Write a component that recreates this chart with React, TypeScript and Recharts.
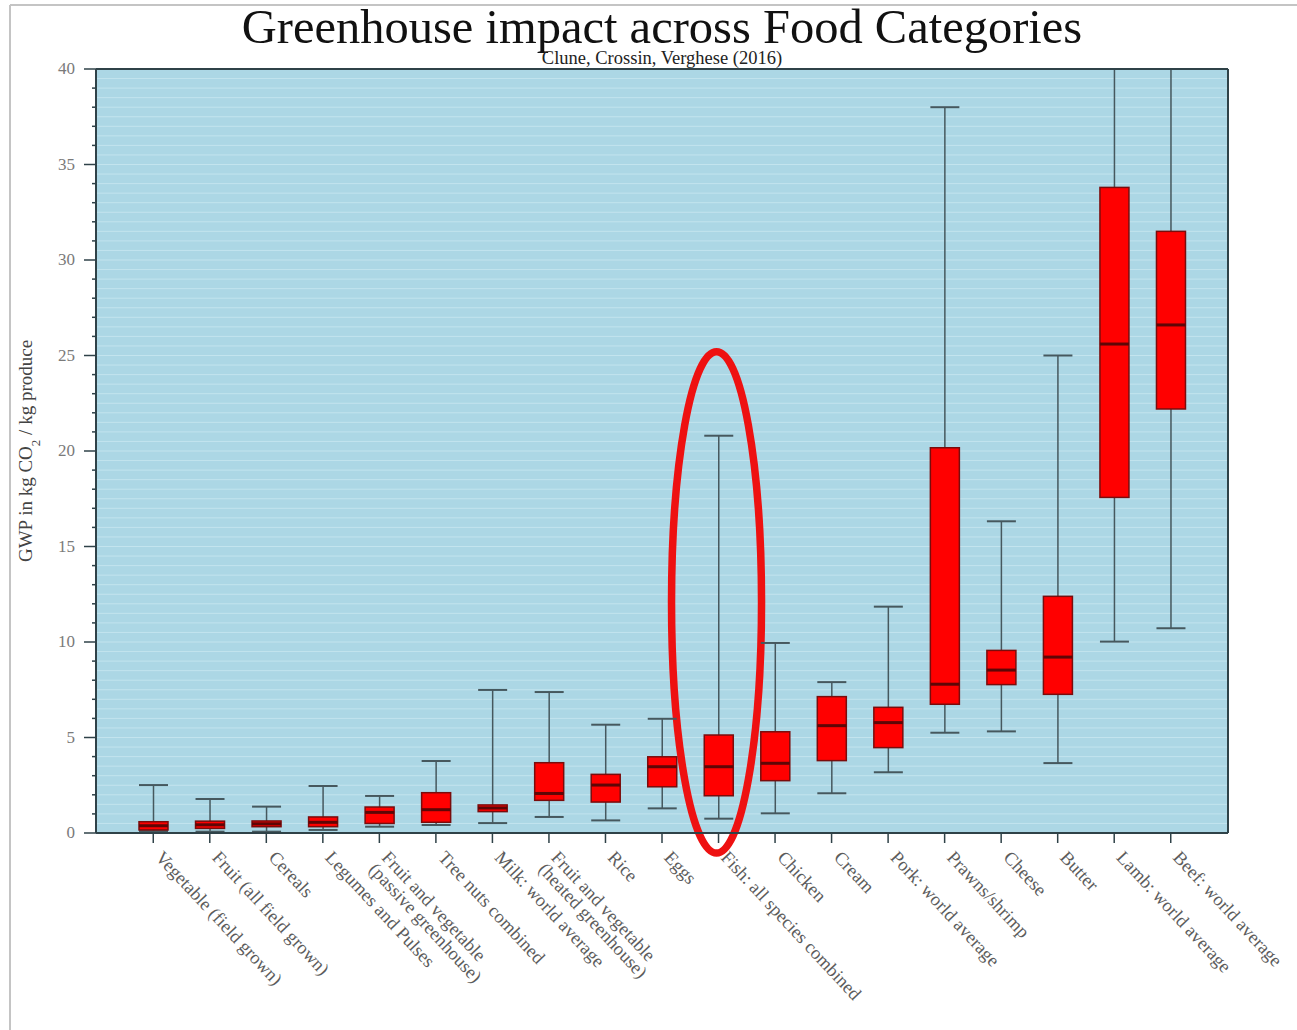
import { ComposedChart, Bar, XAxis, YAxis, CartesianGrid, ReferenceLine, ReferenceArea } from 'recharts'

const categories = [
  'Vegetable (field grown)',
  'Fruit (all field grown)',
  'Cereals',
  'Legumes and Pulses',
  'Fruit and vegetable\n(passive greenhouse)',
  'Tree nuts combined',
  'Milk: world average',
  'Fruit and vegetable\n(heated greenhouse)',
  'Rice',
  'Eggs',
  'Fish: all species combined',
  'Chicken',
  'Cream',
  'Pork: world average',
  'Prawns/shrimp',
  'Cheese',
  'Butter',
  'Lamb: world average',
  'Beef: world average',
]

// GWP in kg CO2 / kg produce
const mins = [0.1, 0.07, 0.07, 0.16, 0.33, 0.42, 0.52, 0.84, 0.66, 1.29, 0.75, 1.03, 2.08, 3.18, 5.25, 5.32, 3.66, 10.02, 10.72]
const q1s = [0.16, 0.24, 0.33, 0.33, 0.5, 0.56, 1.12, 1.71, 1.62, 2.42, 1.95, 2.74, 3.79, 4.47, 6.74, 7.77, 7.26, 17.57, 22.2]
const medians = [0.38, 0.43, 0.48, 0.56, 1.08, 1.22, 1.31, 2.07, 2.51, 3.47, 3.47, 3.65, 5.62, 5.78, 7.79, 8.53, 9.21, 25.6, 26.6]
const q3s = [0.59, 0.62, 0.63, 0.84, 1.36, 2.11, 1.47, 3.68, 3.07, 3.99, 5.13, 5.3, 7.14, 6.58, 20.17, 9.56, 12.39, 33.8, 31.5]
const maxs = [2.51, 1.78, 1.38, 2.46, 1.94, 3.77, 7.49, 7.38, 5.67, 5.98, 20.8, 9.95, 7.9, 11.85, 38.0, 16.32, 25.0, 48, 60]

const yTicks = [0, 1, 2, 3, 4, 5, 6, 7, 8, 9, 10, 11, 12, 13, 14, 15, 16, 17, 18, 19, 20, 21, 22, 23, 24, 25, 26, 27, 28, 29, 30, 31, 32, 33, 34, 35, 36, 37, 38, 39, 40]
const highlighted = 'Fish: all species combined'
const highlightRange = [-1.05, 25.2]

const data = categories.map((name, i) => ({
  name,
  min: mins[i],
  q1: q1s[i],
  median: medians[i],
  q3: q3s[i],
  max: maxs[i],
  range: [mins[i], maxs[i]],
}))

const gridValues = yTicks.flatMap((v) => (v < 40 ? [v, v + 0.5] : [v]))

const FONT = '"Liberation Serif", "DejaVu Serif", serif'
const AXIS = '#2f4248'
const WHISKER = '#46585e'

const BoxShape = (props: any) => {
  const { x, y, width, height, payload } = props
  const { min, q1, median, q3, max } = payload
  const top = Math.min(y, y + height)
  const bottom = Math.max(y, y + height)
  const py = (v: number) => bottom - ((bottom - top) * (v - min)) / (max - min)
  const cx = x + width / 2
  const half = width / 2
  return (
    <g>
      <line x1={cx} x2={cx} y1={py(max)} y2={py(min)} stroke={WHISKER} strokeWidth={1.5} />
      <line x1={cx - half} x2={cx + half} y1={py(max)} y2={py(max)} stroke={WHISKER} strokeWidth={2} />
      <line x1={cx - half} x2={cx + half} y1={py(min)} y2={py(min)} stroke={WHISKER} strokeWidth={2} />
      <rect x={cx - half} y={py(q3)} width={width} height={py(q1) - py(q3)} fill="#ff0000" stroke="#7a0c0c" strokeWidth={1.5} />
      <line x1={cx - half} x2={cx + half} y1={py(median)} y2={py(median)} stroke="#5e0606" strokeWidth={3} />
    </g>
  )
}

const LeftTick = (props: any) => {
  const { x, y, payload } = props
  const major = payload.value % 5 === 0
  return (
    <g>
      <line x1={x} x2={x - (major ? 12 : 4)} y1={y} y2={y} stroke={AXIS} strokeWidth={1.5} />
      {major && (
        <text x={x - 21} y={y} dy={5} textAnchor="end" fontFamily={FONT} fontSize={17} fill="#7a7a7a">
          {payload.value}
        </text>
      )}
    </g>
  )
}

const RightTick = (props: any) => {
  const { x, y, payload } = props
  const major = payload.value % 5 === 0
  return <line x1={x} x2={x + (major ? 12 : 5)} y1={y} y2={y} stroke={AXIS} strokeWidth={1.5} />
}

const CategoryTick = (props: any) => {
  const { x, y, payload } = props
  const lines = String(payload.value).split('\n')
  return (
    <g transform={`translate(${x},${y}) rotate(47)`}>
      <text x={12} y={-4} fontFamily={FONT} fontSize={18.5} fill="#5c5c5c">
        {lines.map((l, i) => (
          <tspan key={i} x={12} dy={i === 0 ? '0.72em' : '0.95em'}>
            {l}
          </tspan>
        ))}
      </text>
    </g>
  )
}

const EllipseShape = (props: any) => {
  const { x, y, width, height } = props
  return (
    <ellipse
      cx={x + width / 2 - 2}
      cy={y + height / 2}
      rx={45}
      ry={height / 2}
      fill="none"
      stroke="#ee1111"
      strokeWidth={7.5}
    />
  )
}

export default function App() {
  return (
    <div style={{ position: 'absolute', left: 0, top: 0, width: 1297, height: 1030, background: '#fff' }}>
      <ComposedChart
        width={1297}
        height={1030}
        data={data}
        margin={{ top: 69, right: 49, bottom: 47, left: 36 }}
      >
        <CartesianGrid
          yAxisId="left"
          vertical={false}
          horizontalValues={gridValues}
          fill="#acd7e5"
          stroke="#c3e4ee"
          strokeWidth={1}
        />
        <XAxis
          dataKey="name"
          interval={0}
          padding={{ left: 29, right: 29 }}
          height={150}
          tickSize={10}
          tickMargin={0}
          axisLine={{ stroke: AXIS, strokeWidth: 2 }}
          tickLine={{ stroke: AXIS, strokeWidth: 1.5 }}
          tick={<CategoryTick />}
        />
        <YAxis
          yAxisId="left"
          domain={[0, 40]}
          allowDataOverflow
          ticks={yTicks}
          interval={0}
          width={60}
          tickSize={0}
          tickMargin={0}
          axisLine={{ stroke: AXIS, strokeWidth: 2 }}
          tickLine={false}
          tick={<LeftTick />}
        />
        <YAxis
          yAxisId="right"
          orientation="right"
          domain={[0, 40]}
          ticks={yTicks}
          interval={0}
          width={20}
          tickSize={0}
          tickMargin={0}
          axisLine={{ stroke: AXIS, strokeWidth: 2 }}
          tickLine={false}
          tick={<RightTick />}
        />
        <ReferenceLine yAxisId="left" y={40} stroke={AXIS} strokeWidth={2} />
        <Bar yAxisId="left" dataKey="range" barSize={29} shape={<BoxShape />} isAnimationActive={false} />
        <ReferenceArea
          yAxisId="left"
          x1={highlighted}
          x2={highlighted}
          y1={highlightRange[0]}
          y2={highlightRange[1]}
          ifOverflow="visible"
          shape={<EllipseShape />}
        />
      </ComposedChart>
      <svg width={1297} height={1030} style={{ position: 'absolute', left: 0, top: 0, pointerEvents: 'none' }}>
        <line x1={10} x2={1297} y1={5} y2={5} stroke="#c4c4c4" strokeWidth={2} />
        <line x1={10} x2={10} y1={5} y2={1030} stroke="#c4c4c4" strokeWidth={2} />
        <text x={662} y={43} textAnchor="middle" fontFamily={FONT} fontSize={48.5} fill="#111">
          Greenhouse impact across Food Categories
        </text>
        <text x={662} y={64} textAnchor="middle" fontFamily={FONT} fontSize={18.5} fill="#222">
          Clune, Crossin, Verghese (2016)
        </text>
        <text transform="translate(32,451) rotate(-90)" textAnchor="middle" fontFamily={FONT} fontSize={19} fill="#444">
          GWP in kg CO<tspan baselineShift="sub" fontSize={13}>2</tspan> / kg produce
        </text>
      </svg>
    </div>
  )
}
